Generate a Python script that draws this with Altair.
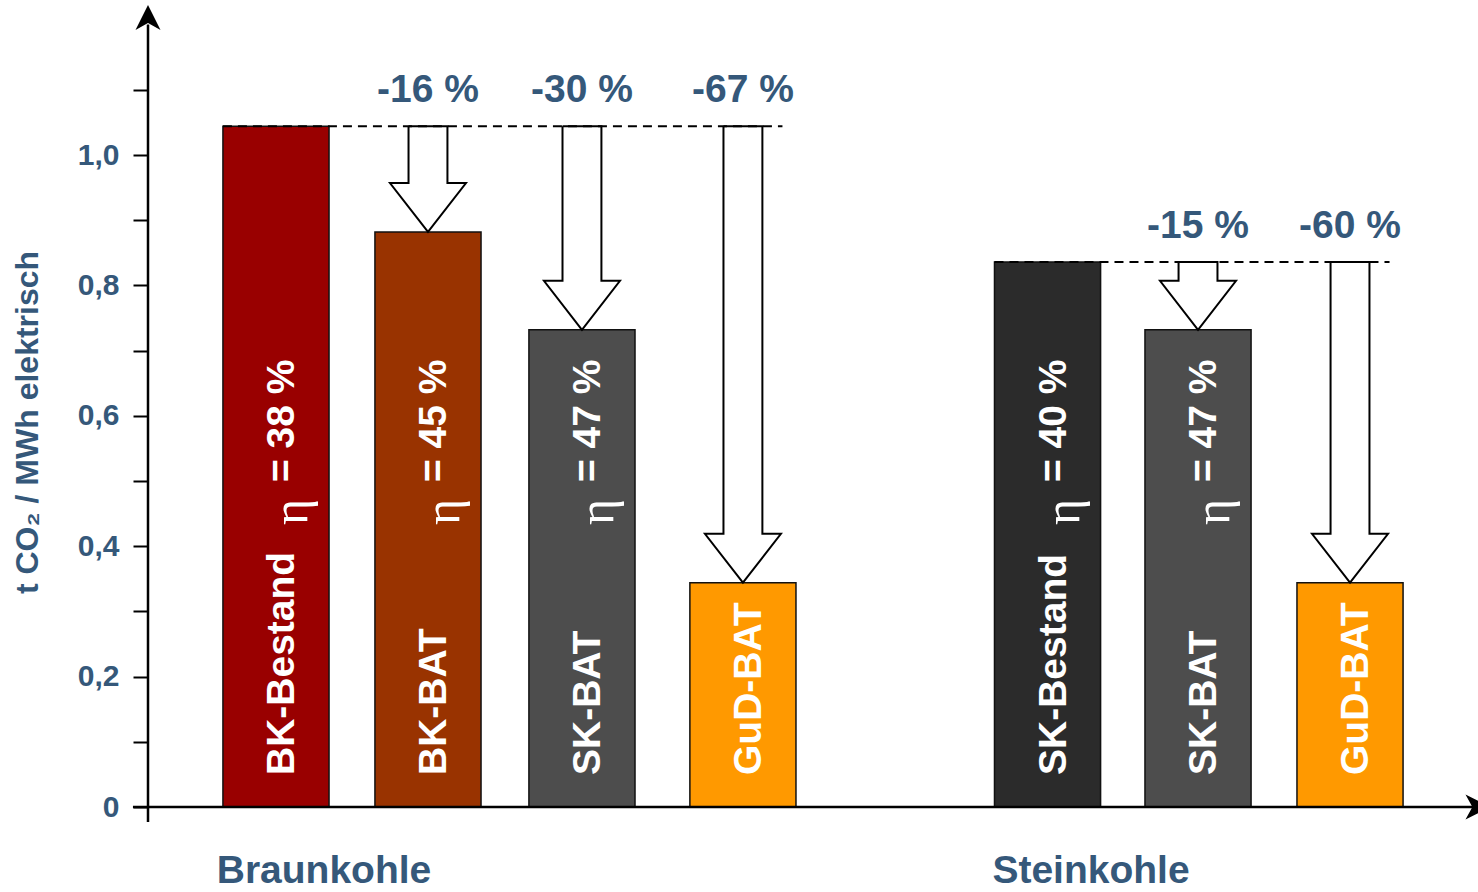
import altair as alt
import pandas as pd

# ---- data ----
categories = ["BK-Bestand", "BK-BAT", "SK-BAT", "GuD-BAT", "SK-Bestand", "SK-BAT", "GuD-BAT"]
positions = [0.842, 1.842, 2.855, 3.914, 5.918, 6.908, 7.908]
values = [1.044, 0.882, 0.732, 0.344, 0.836, 0.732, 0.344]
eta_labels = ["= 38 %", "= 45 %", "= 47 %", "", "= 40 %", "= 47 %", ""]
color_domain = ["BK-Bestand", "BK-BAT", "SK-BAT", "GuD-BAT", "SK-Bestand"]
color_range = ["#990000", "#993300", "#4d4d4d", "#ff9900", "#2b2b2b"]

# reductions: (reference bar index, target bar index, label)
arrow_ref = [0, 0, 0, 4, 4]
arrow_target = [1, 2, 3, 5, 6]
arrow_labels = ["-16 %", "-30 %", "-67 %", "-15 %", "-60 %"]

groups = ["Braunkohle", "Steinkohle"]
group_pos = [1.158, 6.204]
group_first = [0, 4]
group_last = [3, 6]

y_ticks = [0, 0.1, 0.2, 0.3, 0.4, 0.5, 0.6, 0.7, 0.8, 0.9, 1.0, 1.1]

# ---- layout / style ----
W, H = 1330, 802
XMAX = 8.75
YMAX = 1.2301
BAR_HALF = 0.349
SHAFT_HALF = 0.128
HEAD_HALF = 0.25
HEAD_H = 0.075
BLUE = "#35587a"
FONT = "Liberation Sans"

xs = alt.Scale(domain=[0, XMAX], nice=False, zero=False)
ys = alt.Scale(domain=[0, YMAX], nice=False, zero=False)

bars = pd.DataFrame({
    "cat": categories,
    "pos": positions,
    "x1": [p - BAR_HALF for p in positions],
    "x2": [p + BAR_HALF for p in positions],
    "val": values,
    "zero": [0] * len(values),
    "eta": eta_labels,
    "etasym": ["η" if e else "" for e in eta_labels],
})

bar_layer = alt.Chart(bars).mark_rect(stroke="#111111", strokeWidth=1.5).encode(
    x=alt.X("x1:Q", scale=xs, axis=None),
    x2="x2:Q",
    y=alt.Y("val:Q", scale=ys, axis=alt.Axis(
        values=y_ticks,
        labelExpr="datum.value == 0 ? '0' : (round(datum.value*10) % 2 == 0 ? replace(format(datum.value, '.1f'), '.', ',') : '')",
        domain=False, grid=False, tickSize=15, tickColor="black", tickWidth=2,
        labelFont=FONT, labelFontSize=30, labelFontWeight="bold", labelColor=BLUE,
        labelPadding=14,
        title="t CO₂ / MWh elektrisch", titleFont=FONT, titleFontSize=32,
        titleFontWeight="bold", titleColor=BLUE, titleAngle=270,
        titleX=-121, titleY=417, titleAlign="center", titleBaseline="middle",
    )),
    y2="zero:Q",
    color=alt.Color("cat:N", scale=alt.Scale(domain=color_domain, range=color_range), legend=None),
)

# bar name labels (rotated)
name_layer = alt.Chart(bars).mark_text(
    angle=270, align="left", baseline="alphabetic", dy=18,
    font=FONT, fontSize=39, fontWeight="bold", color="white",
).encode(
    x=alt.X("pos:Q", scale=xs, axis=None),
    y=alt.value(H - 32),
    text="cat:N",
)

eta_layer = alt.Chart(bars).mark_text(
    angle=270, align="left", baseline="alphabetic", dy=18,
    font=FONT, fontSize=39, fontWeight="bold", color="white",
).encode(
    x=alt.X("pos:Q", scale=xs, axis=None),
    y=alt.value(H - 325),
    text="eta:N",
)

eta_sym_layer = alt.Chart(bars).mark_text(
    angle=270, align="left", baseline="alphabetic", dy=31,
    font="Liberation Serif", fontSize=50, color="white",
).encode(
    x=alt.X("pos:Q", scale=xs, axis=None),
    y=alt.value(H - 282),
    text="etasym:N",
)

# dashed reference lines
ref_rows = []
for g, a, b in zip(groups, group_first, group_last):
    ref_rows.append({"g": g, "x1": positions[a] - BAR_HALF, "x2": positions[b] + 0.26, "y": values[a]})
refs = pd.DataFrame(ref_rows)
ref_layer = alt.Chart(refs).mark_rule(color="black", strokeWidth=2, strokeDash=[9, 6]).encode(
    x=alt.X("x1:Q", scale=xs, axis=None), x2="x2:Q",
    y=alt.Y("y:Q", scale=ys),
)

# hollow arrows
arrow_rows = []
for k, (r, t) in enumerate(zip(arrow_ref, arrow_target)):
    c = positions[t]
    top = values[r]
    tip = values[t]
    hs = tip + HEAD_H
    pts = [(c - SHAFT_HALF, top), (c + SHAFT_HALF, top), (c + SHAFT_HALF, hs), (c + HEAD_HALF, hs),
           (c, tip), (c - HEAD_HALF, hs), (c - SHAFT_HALF, hs), (c - SHAFT_HALF, top)]
    for i, (px, py) in enumerate(pts):
        arrow_rows.append({"arrow": k, "i": i, "x": px, "y": py})
arrows = pd.DataFrame(arrow_rows)
arrow_layer = alt.Chart(arrows).mark_line(color="black", strokeWidth=2, strokeJoin="miter").encode(
    x=alt.X("x:Q", scale=xs, axis=None),
    y=alt.Y("y:Q", scale=ys),
    detail="arrow:N",
    order="i:Q",
)

pct = pd.DataFrame({
    "x": [positions[t] for t in arrow_target],
    "y": [values[r] for r in arrow_ref],
    "label": arrow_labels,
})
pct_layer = alt.Chart(pct).mark_text(
    align="center", baseline="alphabetic", dy=-24,
    font=FONT, fontSize=39, fontWeight="bold", color=BLUE,
).encode(
    x=alt.X("x:Q", scale=xs, axis=None),
    y=alt.Y("y:Q", scale=ys),
    text="label:N",
)

grp = pd.DataFrame({"g": groups, "x": group_pos})
grp_layer = alt.Chart(grp).mark_text(
    align="center", baseline="alphabetic",
    font=FONT, fontSize=39, fontWeight="bold", color=BLUE,
).encode(
    x=alt.X("x:Q", scale=xs, axis=None),
    y=alt.value(H + 76),
    text="g:N",
)

# axes lines with arrowheads
yaxis = pd.DataFrame({"x": [0], "y1": [-0.023], "y2": [1.20]})
yaxis_layer = alt.Chart(yaxis).mark_rule(color="black", strokeWidth=2.5).encode(
    x=alt.X("x:Q", scale=xs, axis=None),
    y=alt.Y("y1:Q", scale=ys), y2="y2:Q",
)
xaxis = pd.DataFrame({"x1": [-0.099], "x2": [XMAX], "y": [0]})
xaxis_layer = alt.Chart(xaxis).mark_rule(color="black", strokeWidth=2.5).encode(
    x=alt.X("x1:Q", scale=xs, axis=None), x2="x2:Q",
    y=alt.Y("y:Q", scale=ys),
)
up_head = alt.Chart(pd.DataFrame({"x": [0], "y": [1.211]})).mark_point(
    shape="M0,-1 L1,1 L0,0.45 L-1,1 Z", size=625, filled=True, color="black", opacity=1,
).encode(x=alt.X("x:Q", scale=xs, axis=None), y=alt.Y("y:Q", scale=ys))
right_head = alt.Chart(pd.DataFrame({"x": [XMAX], "y": [0]})).mark_point(
    shape="M1,0 L-1,1 L-0.45,0 L-1,-1 Z", size=625, filled=True, color="black", opacity=1,
).encode(x=alt.X("x:Q", scale=xs, axis=None), y=alt.Y("y:Q", scale=ys))

chart = alt.layer(
    bar_layer, ref_layer, arrow_layer, name_layer, eta_layer, eta_sym_layer,
    pct_layer, grp_layer, yaxis_layer, xaxis_layer, up_head, right_head,
).properties(
    width=W, height=H,
    background="white",
    autosize=alt.AutoSizeParams(type="none"),
    padding={"left": 148, "top": 5, "right": 0, "bottom": 85},
).configure_view(stroke=None, strokeWidth=0, clip=False)

chart.save("out.html", embed_options={"renderer": "svg", "actions": False})
